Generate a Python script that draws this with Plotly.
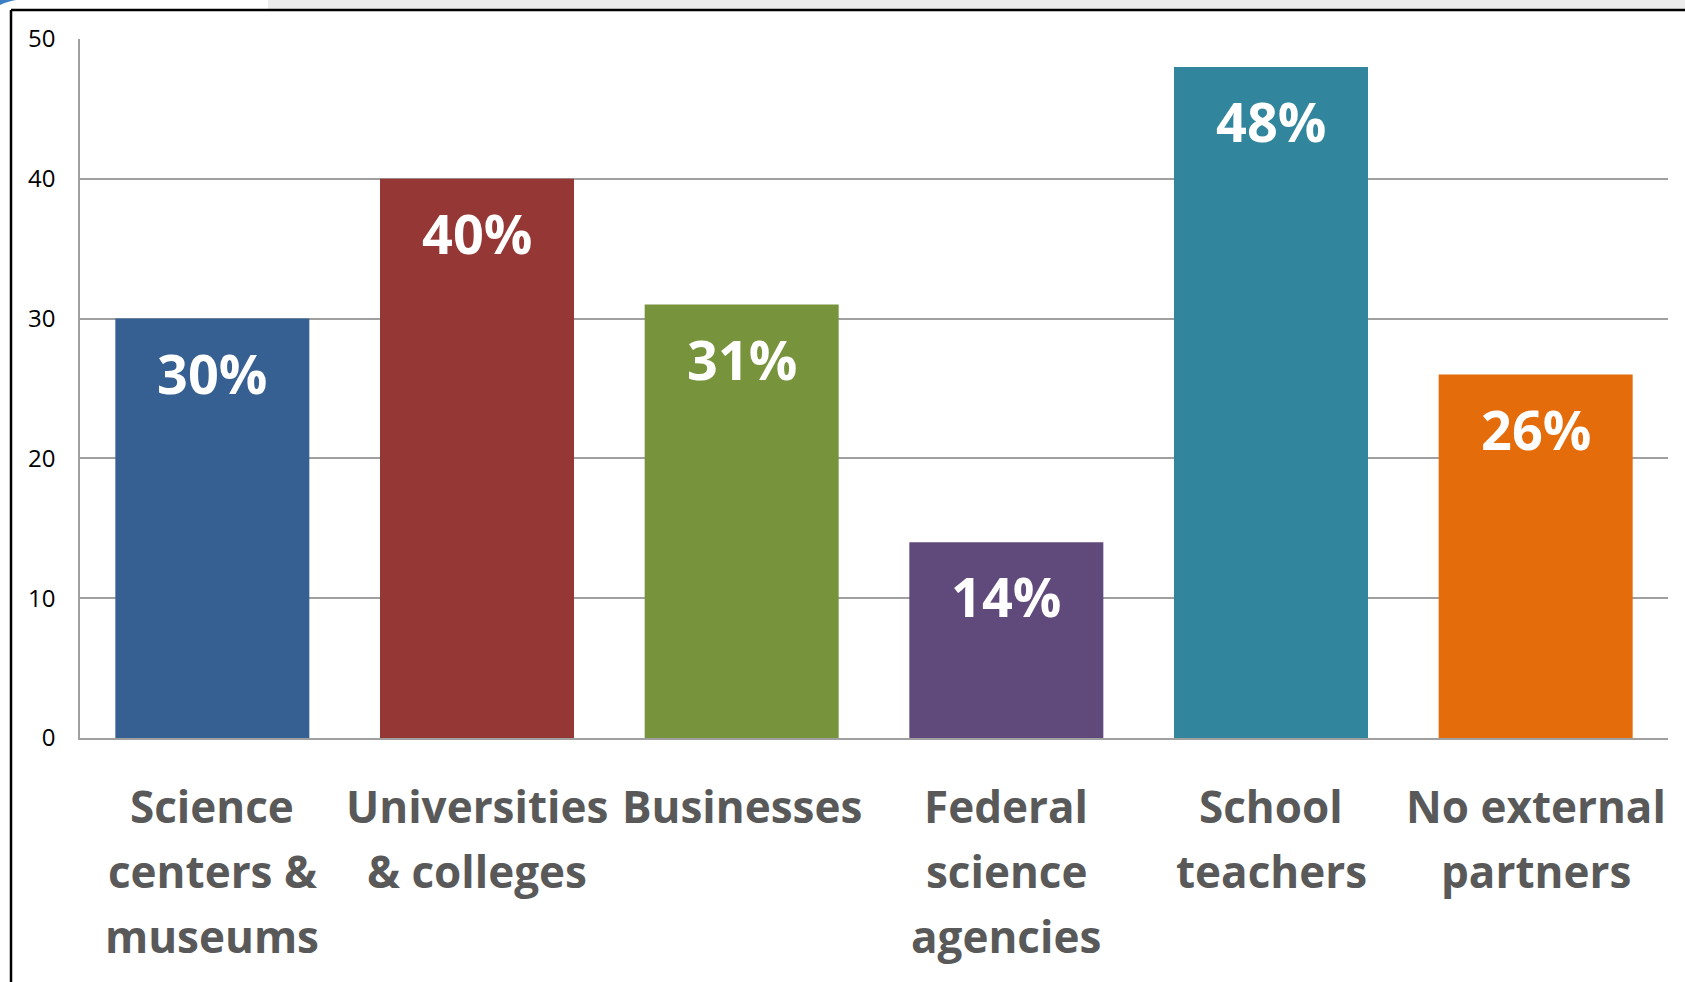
import plotly.graph_objects as go

categories = ["Science centers & museums", "Universities & colleges", "Businesses",
              "Federal science agencies", "School teachers", "No external partners"]
tick_labels = [["Science", "centers &", "museums"], ["Universities", "& colleges"], ["Businesses"],
               ["Federal", "science", "agencies"], ["School", "teachers"], ["No external", "partners"]]
values = [30, 40, 31, 14, 48, 26]
value_labels = ["30%", "40%", "31%", "14%", "48%", "26%"]
colors = ["#376092", "#953735", "#77933C", "#604A7B", "#31859C", "#E46C0A"]
y_ticks = [0, 10, 20, 30, 40, 50]

W, H = 1685, 982
L, R, T, B = 80, 17, 39, 244
pw, ph = W - L - R, H - T - B

def px_x(p):
    return (p - L) / pw

def px_y(p):
    return (H - B - p) / ph

fig = go.Figure(go.Bar(x=categories, y=values, marker=dict(color=colors, line=dict(width=0)),
                       hoverinfo="skip"))

for c, v, t in zip(categories, values, value_labels):
    fig.add_annotation(x=c, y=v, text=t, showarrow=False, yanchor="middle", yshift=-54,
                       font=dict(family="Open Sans", size=54, color="white", weight="bold"))

# category labels, one annotation per line (larger line spacing than tick labels allow)
for c, lines in zip(categories, tick_labels):
    for i, line in enumerate(lines):
        fig.add_annotation(x=c, y=0, text=line, showarrow=False, yanchor="middle",
                           yshift=-(68 + 65 * i),
                           font=dict(family="Open Sans", size=44, color="#595959", weight="bold"))

shapes = [
    dict(type="rect", xref="paper", yref="paper", x0=px_x(268), x1=px_x(W), y0=px_y(0), y1=px_y(10),
         fillcolor="#ececec", line=dict(width=0), layer="below"),
    dict(type="line", xref="paper", yref="paper", x0=px_x(11), x1=px_x(W + 5), y0=px_y(10), y1=px_y(10),
         line=dict(color="black", width=2.5)),
    dict(type="line", xref="paper", yref="paper", x0=px_x(11), x1=px_x(11), y0=px_y(10), y1=px_y(H + 5),
         line=dict(color="black", width=2.5)),
    dict(type="path", xref="paper", yref="paper",
         path=f"M {px_x(0)},{px_y(0)} L {px_x(16)},{px_y(0)} Q {px_x(6)},{px_y(2)} {px_x(0)},{px_y(5)} Z",
         fillcolor="#3a7fc4", line=dict(width=0)),
]

fig.update_layout(
    width=W, height=H,
    margin=dict(l=L, r=R, t=T, b=B, pad=0, autoexpand=False),
    paper_bgcolor="white", plot_bgcolor="white",
    bargap=0.267,
    showlegend=False,
    shapes=shapes,
    xaxis=dict(showticklabels=False, automargin=False,
               showline=True, linecolor="#a0a0a0", linewidth=1.5, ticks="", showgrid=False,
               fixedrange=True),
    yaxis=dict(range=[0, 50], tickvals=y_ticks, showgrid=True, gridcolor="#a0a0a0", gridwidth=1.5,
               zeroline=False, showline=True, linecolor="#a0a0a0", linewidth=1.5, ticks="",
               automargin=False,
               tickfont=dict(family="Open Sans", size=24, color="#000000"),
               ticklabelstandoff=18, fixedrange=True),
)

fig.write_html("out.html")
